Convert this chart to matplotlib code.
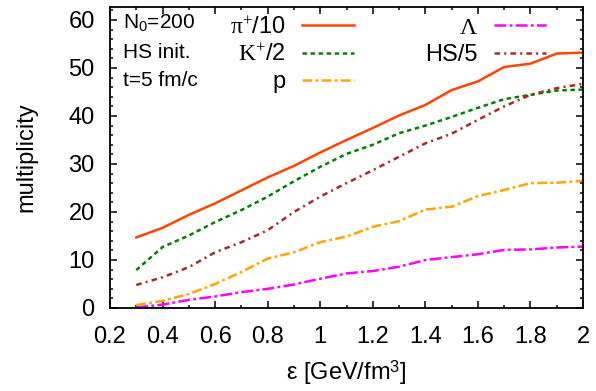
import numpy as np
import matplotlib
matplotlib.use('Agg')
import matplotlib.pyplot as plt
from matplotlib.ticker import MultipleLocator, FuncFormatter

plt.rcParams['font.family'] = ['Liberation Sans', 'DejaVu Sans']
plt.rcParams['mathtext.fontset'] = 'custom'
plt.rcParams['mathtext.rm'] = 'Liberation Serif'
plt.rcParams['mathtext.it'] = 'Liberation Serif:italic'
plt.rcParams['mathtext.sf'] = 'Liberation Sans'
plt.rcParams['lines.scale_dashes'] = False

### energy density and multiplicities
eps = [0.3, 0.4, 0.5, 0.6, 0.7, 0.8, 0.9, 1.0, 1.1, 1.2, 1.3, 1.4, 1.5, 1.6, 1.7, 1.8, 1.9, 2.0]
pion_10 = [14.7, 16.7, 19.4, 21.8, 24.5, 27.2, 29.6, 32.4, 35.0, 37.5, 40.1, 42.3, 45.4, 47.2, 50.2, 50.9, 53.0, 53.2]
kaon_2 = [7.9, 12.7, 15.1, 17.9, 20.4, 23.2, 26.4, 29.4, 32.1, 34.0, 36.4, 38.0, 39.8, 41.7, 43.5, 44.4, 45.3, 45.5]
proton = [0.6, 1.5, 2.9, 5.0, 7.5, 10.3, 11.6, 13.7, 14.9, 16.9, 18.1, 20.5, 21.1, 23.3, 24.6, 26.0, 26.1, 26.5]
lam = [0.1, 0.7, 1.7, 2.4, 3.3, 4.0, 4.9, 6.1, 7.2, 7.7, 8.6, 10.0, 10.6, 11.2, 12.1, 12.2, 12.6, 12.8]
hs_5 = [4.8, 6.4, 8.5, 11.6, 13.7, 16.2, 20.0, 23.2, 26.0, 28.7, 31.5, 34.3, 36.3, 39.2, 42.0, 44.4, 45.8, 46.7]

fig = plt.figure(figsize=(5.96, 3.91), dpi=100)
ax = fig.add_axes([110/596, 1-308/391, 473/596, 301/391])

lw = 1.8
l1, = ax.plot(eps, pion_10, color='orangered', lw=lw, label=r'$\mathrm{\pi}^{+}$/10')
l2, = ax.plot(eps, kaon_2, color='#008000', lw=lw, linestyle=(0, (3.2, 2.6)), label=r'$\mathrm{K}^{+}$/2')
l3, = ax.plot(eps, proton, color='orange', lw=lw, linestyle=(0, (7, 2.4, 2, 2.4)), label='p')
l4, = ax.plot(eps, lam, color='magenta', lw=lw, linestyle=(0, (8.5, 2.4, 2, 2.4)), label=r'$\Lambda$')
l5, = ax.plot(eps, hs_5, color='#a52a2a', lw=lw, linestyle=(0, (4, 3, 1.5, 3)), label='HS/5')

ax.set_xlim(0.2, 2.0)
ax.set_ylim(0, 62.7)
ax.xaxis.set_major_locator(MultipleLocator(0.2))
ax.xaxis.set_minor_locator(MultipleLocator(0.1))
ax.yaxis.set_major_locator(MultipleLocator(10))
ax.yaxis.set_minor_locator(MultipleLocator(2))
ax.xaxis.set_major_formatter(FuncFormatter(lambda v, p: '%g' % round(v, 1)))
ax.tick_params(which='both', direction='in', top=True, right=True, labelsize=17, width=1.1)
ax.tick_params(which='major', length=5)
ax.tick_params(which='minor', length=2.5)
ax.tick_params(axis='x', which='major', pad=13)
ax.tick_params(axis='y', which='major', pad=11)
for s in ax.spines.values():
    s.set_linewidth(1.3)

ax.set_xlabel(r'ε [GeV/fm$^\mathsf{3}$]', fontsize=17, labelpad=7)
ax.set_ylabel('multiplicity', fontsize=17, labelpad=22)

ax.text(0.027, 0.950, r'N$_\mathsf{0}$=200', transform=ax.transAxes, fontsize=15, va='center')
ax.text(0.027, 0.850, 'HS init.', transform=ax.transAxes, fontsize=15, va='center')
ax.text(0.027, 0.757, 't=5 fm/c', transform=ax.transAxes, fontsize=15, va='center')

ax.legend(handles=[l1, l2, l3, l4, l5], ncol=2, markerfirst=False, frameon=False,
          loc='upper left', bbox_to_anchor=((230-110)/473, 0.968), borderpad=0, borderaxespad=0,
          fontsize=17, handlelength=2.2, handletextpad=0.7, columnspacing=3.0, labelspacing=0.22)

plt.savefig('out.png', dpi=100)
